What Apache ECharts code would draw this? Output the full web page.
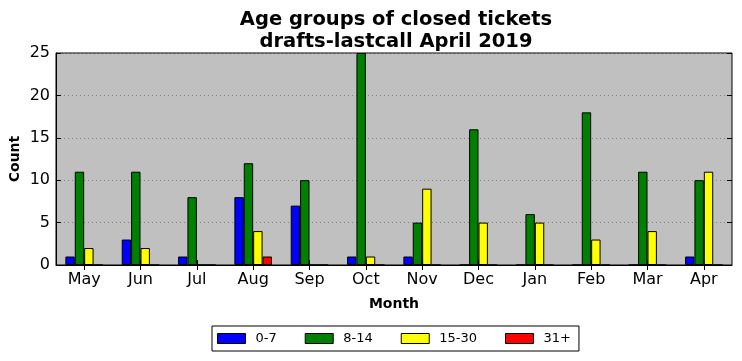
<!DOCTYPE html>
<html><head><meta charset="utf-8">
<script src="https://cdn.jsdelivr.net/npm/echarts@6/dist/echarts.min.js"></script>
<style>html,body{margin:0;padding:0;background:#fff}#c{width:742px;height:361px}</style>
</head><body><div id="c"></div>
<script>
const months = ['May','Jun','Jul','Aug','Sep','Oct','Nov','Dec','Jan','Feb','Mar','Apr'];
const g0_7   = [1, 3, 1, 8, 7, 1, 1, 0, 0, 0, 0, 1];
const g8_14  = [11, 11, 8, 12, 10, 25, 5, 16, 6, 18, 11, 10];
const g15_30 = [2, 2, 0, 4, 0, 1, 9, 5, 5, 3, 4, 11];
const g31    = [0, 0, 0, 1, 0, 0, 0, 0, 0, 0, 0, 0];
const seriesNames = ['0-7','8-14','15-30','31+'];
const seriesColors = ['#0000ff','#008000','#ffff00','#ff0000'];
const yTicks = [0,5,10,15,20,25];

const FONT = 'DejaVu Sans';
const chart = echarts.init(document.getElementById('c'), null, {renderer:'canvas'});
const data = [g0_7, g8_14, g15_30, g31];
chart.setOption({
  animation: false,
  textStyle: {fontFamily: FONT},
  title: {
    text: 'Age groups of closed tickets\ndrafts-lastcall April 2019',
    left: 391, top: 4, textAlign: 'center',
    textStyle: {fontFamily: FONT, fontWeight: 'bold', fontSize: 19.5, lineHeight: 22, color: '#000'}
  },
  legend: {
    left: 212, top: 326,
    data: seriesNames,
    icon: 'rect',
    itemWidth: 28, itemHeight: 10, itemGap: 28,
    backgroundColor: '#fff', borderColor: '#000', borderWidth: 1,
    padding: [6, 8, 6, 5],
    textStyle: {fontFamily: FONT, fontSize: 13, color: '#000', padding: [0,0,0,5]},
    itemStyle: {borderColor: '#000', borderWidth: 1}
  },
  grid: {
    left: 56, right: 10, top: 53, bottom: 96,
    outerBoundsMode: 'none', containLabel: false,
    show: true, backgroundColor: '#c0c0c0', borderColor: '#000', borderWidth: 1
  },
  xAxis: [{
    type: 'category', data: months,
    name: 'Month', nameLocation: 'middle', nameGap: 32,
    nameTextStyle: {fontFamily: FONT, fontWeight: 'bold', fontSize: 14, color: '#000'},
    axisLine: {show: true, lineStyle: {color: '#000'}},
    axisTick: {show: true, inside: true, alignWithLabel: true, length: 5, lineStyle: {color: '#000'}},
    axisLabel: {fontFamily: FONT, fontSize: 16, color: '#000', margin: 7},
    splitLine: {show: false}
  },{
    type: 'category', data: months, position: 'top',
    axisLine: {show: false},
    axisTick: {show: true, inside: true, alignWithLabel: true, length: 5, lineStyle: {color: '#000'}},
    axisLabel: {show: false}
  }],
  yAxis: [{
    type: 'value', min: 0, max: 25, interval: 5,
    name: 'Count', nameLocation: 'middle', nameGap: 34, nameMoveOverlap: false,
    nameTextStyle: {fontFamily: FONT, fontWeight: 'bold', fontSize: 14, color: '#000'},
    axisLine: {show: true, lineStyle: {color: '#000'}},
    axisTick: {show: true, inside: true, length: 5, lineStyle: {color: '#000'}},
    axisLabel: {fontFamily: FONT, fontSize: 16, color: '#000', margin: 6},
    splitLine: {show: true, lineStyle: {color: '#808080', type: [1,3], width: 1}}
  },{
    type: 'value', min: 0, max: 25, interval: 5, position: 'right',
    axisLine: {show: false},
    axisTick: {show: true, inside: true, length: 5, lineStyle: {color: '#000'}},
    axisLabel: {show: false}, splitLine: {show: false}
  }],
  series: seriesNames.map((n, i) => ({
    name: n, type: 'bar', data: data[i],
    barWidth: '16.667%', barGap: '0%',
    itemStyle: {color: seriesColors[i], borderColor: '#000', borderWidth: 1}
  }))
});
</script></body></html>
